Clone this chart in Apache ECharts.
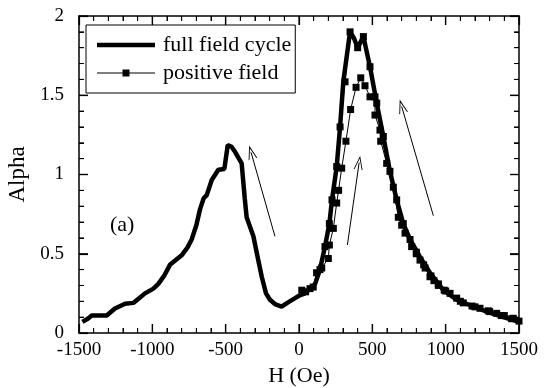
<!DOCTYPE html>
<html>
<head>
<meta charset="utf-8">
<script src="https://cdn.jsdelivr.net/npm/echarts@6/dist/echarts.min.js"></script>
<style>
  html, body { margin: 0; padding: 0; background: #fff; }
  #chart { width: 547px; height: 388px; }
</style>
</head>
<body>
<div id="chart"></div>
<script>
// full field cycle (thick line)
const fullH = [-1477,-1440,-1413,-1311,-1255,-1186,-1130,-1090,-1050,-993,-959,-920,-880,-840,-800,-760,-732,-700,-675,-650,-629,-595,-550,-509,-486,-460,-441,-391,-370,-357,-311,-280,-254,-225,-198,-160,-118,-80,-27,0,41,75,110,143,177,207,225,257,280,302,348,375,400,439,484,530,575,620,666,711,757,825,893,984,1075,1166,1280,1393,1500]
const fullAlpha = [0.07,0.09,0.11,0.11,0.155,0.185,0.19,0.22,0.25,0.28,0.31,0.36,0.43,0.46,0.49,0.54,0.59,0.68,0.78,0.85,0.87,0.965,1.03,1.035,1.185,1.175,1.15,1.07,0.85,0.73,0.61,0.47,0.355,0.25,0.21,0.18,0.166,0.19,0.22,0.235,0.25,0.28,0.31,0.40,0.545,0.69,0.84,1.05,1.30,1.585,1.90,1.86,1.80,1.87,1.68,1.45,1.24,1.02,0.84,0.69,0.59,0.48,0.38,0.27,0.21,0.175,0.135,0.10,0.07]

// positive field (thin line + squares), up sweep then back down
const posH = [19,45,75,97,120,155,200,207,234,257,270,291,320,352,389,421,450,484,518,518,552,557,598,643,677,700,723,768,800,825,860,893,920,950,990,1030,1075,1120,1180,1234,1290,1348,1400,1461,1500,1450,1380,1300,1200,1100,1000,950,900,850,800,757,711,666,620,575,530,484,439,400,348,314,280,257,225,207,177,143]
const posAlpha = [0.27,0.26,0.28,0.29,0.38,0.41,0.47,0.555,0.66,0.82,0.9,1.04,1.21,1.41,1.55,1.61,1.56,1.49,1.49,1.375,1.28,1.21,1.07,0.92,0.73,0.68,0.63,0.545,0.5,0.46,0.41,0.355,0.33,0.30,0.27,0.25,0.22,0.19,0.17,0.156,0.14,0.124,0.11,0.093,0.075,0.09,0.11,0.135,0.165,0.2,0.265,0.31,0.36,0.43,0.51,0.59,0.69,0.84,1.02,1.24,1.45,1.68,1.87,1.80,1.90,1.585,1.30,1.05,0.84,0.69,0.545,0.40]

// sweep direction arrows (tail -> head), in data units
const arrowFrom = [[-164,0.61],[330,0.555],[916,0.74]]
const arrowTo = [[-327,1.14],[410,1.075],[700,1.43]]

const xRange = [-1500, 1500], xMajor = 500, xMinor = 100
const yRange = [0, 2], yMajor = 0.5, yMinor = 0.1

const font = '"Liberation Serif", "DejaVu Serif", serif'
const zip = (xs, ys) => xs.map((x, i) => [x, ys[i]])

const chart = echarts.init(document.getElementById('chart'))

// fresh object per axis, boxed frame with inward ticks
const makeAxis = (range, interval, extra) => Object.assign({
  type: 'value', min: range[0], max: range[1], interval: interval,
  axisLine: { show: true, onZero: false, lineStyle: { color: '#000', width: 1.5 } },
  axisTick: { show: true, inside: true, length: 9, lineStyle: { color: '#000', width: 1.2 } },
  minorTick: { show: true, splitNumber: 5, length: 5, lineStyle: { color: '#000', width: 1 } },
  splitLine: { show: false },
  minorSplitLine: { show: false }
}, extra)

// open arrowhead pointing up, rotated by echarts along the line
const arrowHead = 'path://M0,12 L5,0 L10,12 L9,12 L5,2.5 L1,12 Z'
const thickIcon = 'path://M0,0 L58,0 L58,4.5 L0,4.5 Z'
const squareIcon = 'path://M0,3 L25.5,3 L25.5,0 L32.5,0 L32.5,3 L58,3 L58,4 L32.5,4 L32.5,7 L25.5,7 L25.5,4 L0,4 Z'

const labelA = { id: 'labelA', type: 'text', left: 110, top: 214,
  style: { text: '(a)', font: '22px ' + font, fill: '#000' } }

const option = {
  animation: false,
  backgroundColor: '#fff',
  // keep the plot box fixed, labels may sit outside it
  grid: { left: 79, right: 28, top: 16, bottom: 55, outerBoundsMode: 'none' },
  legend: {
    orient: 'vertical',
    left: 86, top: 25,
    padding: [9, 4, 9, 11],
    itemGap: 6,
    itemWidth: 58, itemHeight: 14,
    borderColor: '#000', borderWidth: 1, borderRadius: 0,
    backgroundColor: '#fff',
    textStyle: { fontFamily: font, fontSize: 22, lineHeight: 22, color: '#000', padding: [0, 0, 0, 3] },
    data: [
      { name: 'full field cycle', icon: thickIcon },
      { name: 'positive field', icon: squareIcon }
    ]
  },
  xAxis: [
    makeAxis(xRange, xMajor, {
      position: 'bottom',
      name: 'H (Oe)', nameLocation: 'middle', nameGap: 32,
      nameTextStyle: { fontFamily: font, fontSize: 22, color: '#000' },
      axisLabel: { color: '#000', fontFamily: font, fontSize: 19, margin: 8, formatter: v => String(v) }
    }),
    makeAxis(xRange, xMajor, { position: 'top', axisLabel: { show: false } })
  ],
  yAxis: [
    makeAxis(yRange, yMajor, {
      position: 'left',
      name: 'Alpha', nameLocation: 'middle', nameGap: 33,
      nameTextStyle: { fontFamily: font, fontSize: 23, color: '#000' },
      axisLabel: { color: '#000', fontFamily: font, fontSize: 19, margin: 15, formatter: v => String(v) }
    }),
    makeAxis(yRange, yMajor, { position: 'right', axisLabel: { show: false } })
  ],
  graphic: [labelA],
  series: [
    {
      name: 'full field cycle',
      type: 'line',
      data: zip(fullH, fullAlpha),
      symbol: 'none',
      lineStyle: { color: '#000', width: 4.5 },
      itemStyle: { color: '#000' }
    },
    {
      name: 'positive field',
      type: 'line',
      data: zip(posH, posAlpha),
      symbol: 'rect',
      symbolSize: 7,
      lineStyle: { color: '#000', width: 1 },
      itemStyle: { color: '#000' },
      markLine: {
        silent: true,
        symbol: ['none', arrowHead],
        symbolSize: [9, 14],
        label: { show: false },
        lineStyle: { color: '#000', width: 1, type: 'solid' },
        data: arrowFrom.map((p, i) => [{ coord: p }, { coord: arrowTo[i] }])
      }
    }
  ]
}

chart.setOption(option)

// inward frame ticks on all four sides, placed through the chart's own scales
// (axisTick alone did not show up in this setup)
const near = (v, step) => Math.abs(v / step - Math.round(v / step)) < 1e-6
const toPx = (x, y) => chart.convertToPixel({ xAxisIndex: 0, yAxisIndex: 0 }, [x, y])
const tickLines = []
const addTick = (x1, y1, x2, y2, w) => tickLines.push({
  type: 'line', silent: true, z: 50,
  shape: { x1: x1, y1: y1, x2: x2, y2: y2 },
  style: { stroke: '#000', lineWidth: w }
})
for (let k = 0; xRange[0] + k * xMinor <= xRange[1] + 1e-9; k++) {
  const x = xRange[0] + k * xMinor
  const major = near(x, xMajor)
  const len = major ? 9 : 5
  const b = toPx(x, yRange[0]), t = toPx(x, yRange[1])
  addTick(b[0], b[1], b[0], b[1] - len, major ? 1.2 : 1)
  addTick(t[0], t[1], t[0], t[1] + len, major ? 1.2 : 1)
}
for (let k = 0; yRange[0] + k * yMinor <= yRange[1] + 1e-9; k++) {
  const y = +(yRange[0] + k * yMinor).toFixed(3)
  const major = near(y, yMajor)
  const len = major ? 9 : 5
  const l = toPx(xRange[0], y), r = toPx(xRange[1], y)
  addTick(l[0], l[1], l[0] + len, l[1], major ? 1.2 : 1)
  addTick(r[0], r[1], r[0] - len, r[1], major ? 1.2 : 1)
}
chart.setOption({ graphic: [labelA].concat(tickLines) })
</script>
</body>
</html>
